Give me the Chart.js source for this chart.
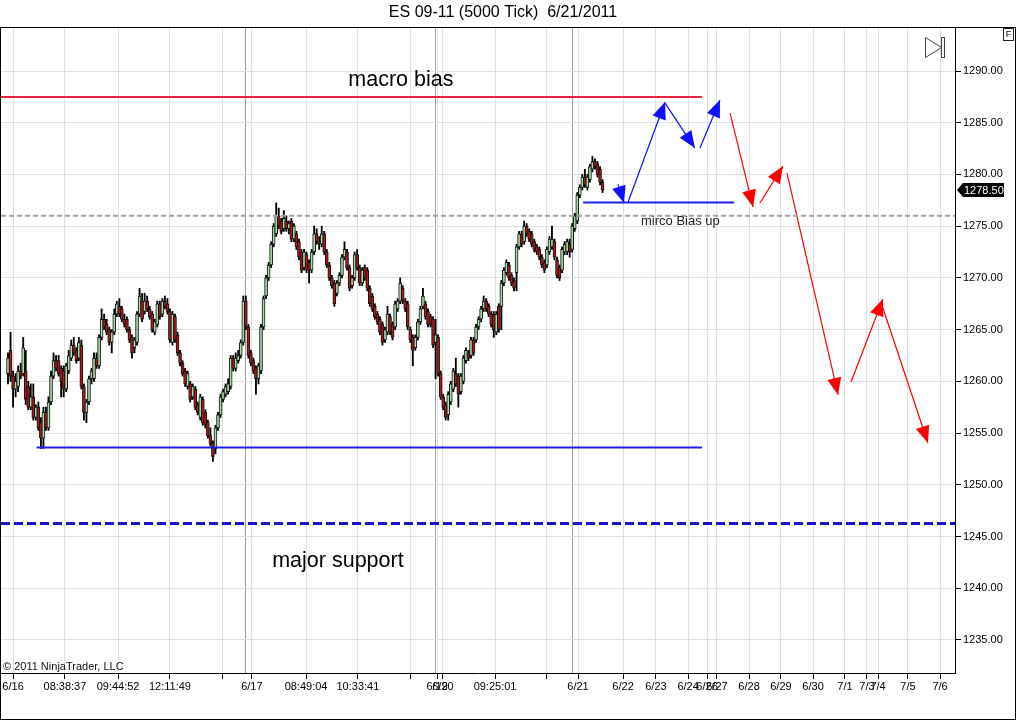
<!DOCTYPE html>
<html>
<head>
<meta charset="utf-8">
<title>ES 09-11 (5000 Tick) 6/21/2011</title>
<script src="https://cdn.jsdelivr.net/npm/chart.js@4.4.1/dist/chart.umd.min.js"></script>
<style>
  html, body { margin: 0; padding: 0; background: #fff; }
  #wrap { width: 1016px; height: 720px; }
</style>
</head>
<body>
<div id="wrap"><canvas id="chart" width="1016" height="720"></canvas></div>
<script>
// candles, one per 5000 ticks (index on x)
const opens = [
  1260.75,1263.0,1260.5,1259.25,1259.5,1261.0,1260.75,1261.0,1259.5,1257.5,
  1258.5,1256.5,1257.5,1256.0,1254.5,1257.0,1255.5,1258.0,1260.5,1262.0,
  1262.0,1261.25,1261.0,1259.25,1261.0,1262.25,1263.5,1263.0,1262.25,1263.5,
  1259.5,1257.0,1258.0,1260.25,1260.25,1262.25,1261.5,1264.25,1266.0,1265.5,
  1265.0,1263.75,1264.75,1266.5,1267.25,1267.0,1266.0,1266.0,1265.0,1264.25,
  1263.25,1263.75,1266.5,1267.75,1266.75,1267.75,1267.0,1266.5,1264.75,1265.5,
  1267.5,1266.5,1267.75,1267.5,1266.75,1263.75,1266.25,1264.5,1262.75,1261.75,
  1261.0,1259.5,1259.75,1258.5,1259.25,1257.75,1256.5,1258.25,1257.0,1256.0,
  1254.75,1254.0,1253.5,1255.5,1256.75,1258.25,1258.75,1259.0,1259.5,1262.25,
  1261.25,1262.0,1262.5,1263.75,1267.75,1265.25,1262.75,1262.0,1261.25,1260.25,
  1261.0,1265.25,1268.25,1270.0,1271.25,1273.25,1274.25,1276.0,1275.5,1274.75,
  1275.5,1274.75,1275.5,1273.75,1274.25,1273.5,1272.5,1271.0,1272.25,1271.5,
  1270.75,1272.5,1274.25,1273.5,1273.25,1274.25,1272.5,1271.25,1270.0,1269.5,
  1268.5,1269.5,1270.25,1272.0,1272.5,1271.0,1269.25,1270.0,1272.25,1271.0,
  1269.5,1271.0,1270.75,1269.0,1268.25,1267.25,1266.5,1266.0,1265.5,1264.0,
  1264.75,1266.25,1265.5,1265.25,1267.0,1267.75,1269.0,1267.75,1267.5,1265.0,
  1264.25,1263.25,1264.25,1265.75,1267.25,1267.5,1266.75,1266.25,1266.0,1263.75,
  1264.25,1260.75,1258.5,1257.75,1256.75,1258.0,1259.25,1260.75,1260.5,1259.0,
  1260.0,1262.0,1262.75,1262.5,1264.0,1264.0,1265.25,1266.0,1267.0,1267.75,
  1267.25,1266.5,1266.5,1264.75,1267.25,1267.25,1269.5,1270.5,1271.25,1270.25,
  1269.75,1270.5,1273.0,1274.25,1273.5,1275.0,1274.5,1274.25,1273.5,1273.0,
  1272.75,1272.0,1271.5,1271.25,1272.5,1273.0,1273.5,1271.75,1271.0,1270.75,
  1272.5,1272.5,1273.25,1272.75,1274.75,1275.5,1278.0,1278.75,1279.75,1278.75,
  1279.5,1280.5,1281.25,1281.0,1280.5,1279.25
];
const highs = [
  1262.75,1264.75,1261.0,1260.75,1261.5,1261.75,1264.25,1263.0,1260.0,1259.75,
  1259.75,1257.75,1258.0,1256.5,1257.5,1257.5,1258.5,1261.0,1262.75,1262.5,
  1262.5,1261.5,1261.5,1261.75,1263.0,1264.0,1264.25,1263.25,1264.25,1264.0,
  1259.75,1258.25,1260.5,1261.25,1262.75,1262.75,1264.5,1267.0,1266.5,1266.0,
  1265.25,1265.0,1267.0,1267.75,1268.0,1267.25,1266.5,1266.25,1265.25,1264.5,
  1264.25,1266.75,1269.0,1268.5,1268.5,1268.25,1267.25,1266.75,1266.0,1267.75,
  1267.75,1268.0,1268.25,1268.0,1267.0,1266.75,1266.5,1264.75,1263.0,1262.0,
  1261.25,1261.0,1260.0,1259.75,1259.5,1258.0,1258.75,1258.5,1257.25,1256.25,
  1255.5,1254.25,1255.75,1257.0,1258.75,1259.25,1259.75,1260.25,1262.5,1262.5,
  1262.75,1263.0,1264.0,1268.25,1268.25,1265.5,1263.0,1262.25,1261.5,1261.75,
  1265.5,1268.25,1270.25,1271.5,1273.5,1275.25,1277.25,1276.75,1275.75,1276.5,
  1276.0,1275.5,1275.75,1275.25,1274.5,1273.75,1272.75,1272.75,1272.5,1271.75,
  1272.75,1275.0,1274.75,1274.0,1275.0,1274.5,1272.75,1271.5,1270.25,1269.75,
  1269.75,1270.5,1272.25,1273.5,1272.75,1271.25,1270.25,1272.5,1272.75,1271.25,
  1271.0,1271.25,1271.0,1269.25,1268.5,1267.5,1266.75,1266.25,1265.75,1265.25,
  1267.25,1266.5,1265.75,1267.75,1268.0,1270.0,1269.25,1268.0,1267.75,1265.25,
  1264.5,1264.5,1266.0,1267.25,1269.0,1267.75,1267.0,1266.5,1266.25,1266.0,
  1264.5,1261.0,1258.75,1258.0,1259.0,1260.0,1261.25,1262.25,1260.75,1260.75,
  1262.5,1263.25,1263.0,1264.25,1264.25,1265.5,1266.25,1267.25,1268.25,1268.0,
  1267.5,1266.75,1266.75,1266.75,1267.5,1269.75,1271.0,1271.75,1271.5,1270.5,
  1270.0,1273.25,1274.5,1274.5,1275.5,1275.25,1274.75,1274.5,1273.75,1273.25,
  1273.0,1272.25,1271.75,1273.0,1274.0,1275.0,1273.75,1272.0,1271.25,1273.0,
  1273.5,1273.75,1273.75,1275.25,1276.25,1278.25,1279.0,1280.0,1280.5,1280.0,
  1281.0,1281.75,1281.5,1281.25,1280.75,1279.5
];
const lows = [
  1259.75,1260.0,1257.5,1258.5,1259.0,1260.25,1260.5,1257.75,1257.25,1257.25,
  1256.25,1256.25,1255.25,1253.5,1253.5,1255.25,1255.25,1257.75,1260.25,1261.0,
  1260.5,1258.5,1258.5,1259.0,1260.75,1262.0,1262.5,1261.75,1262.0,1259.25,
  1256.25,1256.0,1257.75,1259.75,1260.0,1261.25,1261.25,1264.0,1265.0,1264.5,
  1263.5,1262.75,1264.5,1266.25,1266.25,1265.75,1265.25,1264.75,1263.75,1262.25,
  1262.75,1263.5,1266.25,1265.75,1266.5,1266.75,1266.0,1264.75,1264.5,1265.25,
  1266.0,1266.25,1267.0,1266.5,1263.75,1263.5,1263.75,1262.5,1261.5,1260.5,
  1259.5,1259.25,1258.0,1258.25,1257.25,1256.75,1256.25,1255.75,1255.5,1254.5,
  1253.75,1252.25,1253.0,1255.25,1256.5,1258.0,1258.5,1258.75,1259.25,1261.0,
  1261.0,1261.75,1262.25,1263.5,1265.0,1262.25,1261.5,1260.75,1258.75,1259.75,
  1260.75,1265.0,1268.0,1269.75,1271.0,1273.0,1274.0,1274.75,1274.25,1274.5,
  1274.5,1274.25,1273.5,1273.5,1272.75,1271.75,1270.5,1270.75,1270.5,1269.5,
  1270.5,1272.25,1273.25,1272.75,1273.0,1272.25,1271.0,1269.75,1269.0,1267.25,
  1268.25,1269.25,1270.0,1271.75,1270.75,1268.75,1269.0,1269.75,1270.75,1269.25,
  1269.25,1269.75,1268.75,1267.25,1266.75,1266.0,1265.5,1264.5,1263.5,1263.75,
  1264.5,1264.5,1264.0,1265.0,1266.75,1267.5,1267.5,1266.75,1265.0,1263.75,
  1261.5,1263.0,1264.0,1265.5,1267.0,1266.0,1265.25,1265.25,1263.25,1260.25,
  1260.5,1258.25,1257.25,1256.25,1256.25,1257.75,1259.0,1259.5,1257.5,1258.75,
  1259.75,1261.75,1262.0,1262.25,1262.5,1263.75,1265.0,1265.75,1266.75,1266.75,
  1266.25,1265.25,1264.25,1264.5,1264.75,1265.0,1269.25,1270.25,1269.75,1269.25,
  1268.75,1268.75,1272.75,1273.0,1273.25,1274.0,1273.5,1273.0,1272.5,1272.25,
  1271.75,1271.0,1270.5,1271.0,1272.25,1272.75,1271.75,1270.0,1269.75,1270.5,
  1272.25,1272.25,1272.0,1272.5,1274.5,1275.25,1277.75,1278.5,1278.75,1278.5,
  1279.25,1280.25,1280.5,1279.75,1279.0,1278.25
];
const closes = [
  1262.25,1260.5,1259.25,1260.0,1261.0,1260.5,1263.25,1258.25,1257.5,1258.5,
  1256.5,1257.5,1255.5,1254.5,1257.0,1255.5,1258.0,1260.5,1262.0,1261.25,
  1260.75,1260.0,1259.25,1261.5,1262.5,1263.5,1262.75,1262.0,1263.75,1259.5,
  1257.0,1258.0,1260.25,1261.0,1262.25,1261.5,1264.25,1266.0,1265.25,1264.75,
  1263.75,1264.75,1266.5,1267.5,1266.5,1266.0,1265.5,1265.0,1264.0,1262.75,
  1264.0,1266.5,1268.25,1266.0,1267.75,1267.0,1266.25,1265.0,1265.75,1267.5,
  1266.25,1267.75,1267.25,1266.75,1264.0,1266.5,1264.0,1262.75,1261.75,1260.75,
  1259.75,1260.75,1258.25,1259.5,1257.5,1257.0,1258.5,1256.0,1255.75,1254.75,
  1254.0,1252.75,1255.5,1256.75,1258.5,1259.0,1259.5,1259.75,1262.25,1261.25,
  1262.25,1262.5,1263.75,1267.75,1265.25,1262.5,1261.75,1261.0,1260.25,1261.5,
  1265.25,1268.0,1270.0,1271.25,1273.25,1275.0,1276.0,1275.0,1274.5,1275.75,
  1274.75,1275.25,1273.75,1275.0,1273.0,1272.0,1270.75,1272.5,1270.75,1270.75,
  1272.5,1274.25,1273.5,1273.25,1274.25,1272.5,1271.25,1270.0,1269.25,1267.5,
  1269.5,1270.25,1272.0,1272.75,1271.0,1269.0,1270.0,1272.25,1271.0,1269.5,
  1270.75,1270.0,1269.0,1267.5,1267.0,1266.25,1265.75,1264.75,1263.75,1265.0,
  1266.5,1264.75,1264.25,1267.5,1267.75,1269.5,1267.75,1267.0,1265.25,1264.0,
  1263.0,1264.25,1265.75,1267.0,1268.25,1266.25,1265.5,1265.5,1263.5,1264.5,
  1260.75,1258.5,1257.5,1256.5,1258.75,1259.75,1261.0,1259.75,1258.75,1260.5,
  1262.25,1263.0,1262.25,1264.0,1262.75,1265.25,1266.0,1267.0,1267.75,1267.0,
  1266.5,1265.5,1265.0,1266.5,1265.0,1269.5,1270.75,1271.5,1270.0,1269.5,
  1269.0,1273.0,1274.25,1273.25,1275.0,1274.25,1273.75,1273.25,1272.75,1272.5,
  1272.0,1271.25,1270.75,1272.75,1273.75,1273.75,1272.0,1270.25,1270.0,1272.75,
  1273.25,1273.5,1272.5,1275.0,1276.0,1278.0,1278.75,1279.75,1279.0,1279.75,
  1280.75,1281.25,1280.75,1280.0,1279.25,1278.5
];

// x axis: bar-index positions of the time labels
const xTickPos = [2.0, 22.5, 43.5, 64.0, 84.6, 96.4, 117.8, 138.3, 158.9, 169.6, 171.9, 192.5, 213.0, 225.3,
                  243.1, 256.1, 268.8, 276.3, 280.2, 292.9, 305.5, 318.2, 330.8, 339.5, 343.9, 355.7, 368.4];
const xTickLabels = ['6/16', '08:38:37', '09:44:52', '12:11:49', '', '6/17', '08:49:04', '10:33:41', '', '6/19', '6/20', '09:25:01', '', '6/21',
                     '6/22', '6/23', '6/24', '6/26', '6/27', '6/28', '6/29', '6/30', '7/1', '7/3', '7/4', '7/5', '7/6'];
const sessionBreaks = [93.7, 168.8, 223.3];
const yTicks = [1235, 1240, 1245, 1250, 1255, 1260, 1265, 1270, 1275, 1280, 1285, 1290];
const xMin = -2.77, xMax = 374.3, yMin = 1231.8, yMax = 1294.16;

// drawn levels
const macroBias = 1287.5;
const microBias = 1277.3;
const supportLevel = 1253.6;
const majorSupport = 1246.25;
const prevHigh = 1276.0;

// arrows: [fromBar, fromPrice, toBar, toPrice]
const blueArrows = [
  [241.1, 1279.07, 243.5, 1277.24],
  [245.1, 1277.33, 259.7, 1287.0],
  [259.7, 1286.9, 271.5, 1282.55],
  [273.5, 1282.55, 281.4, 1287.19]
];
const redArrows = [
  [285.4, 1285.94, 294.5, 1276.85],
  [297.2, 1277.24, 306.3, 1280.81],
  [307.9, 1280.14, 328.1, 1258.68],
  [333.2, 1259.93, 345.8, 1267.96],
  [345.8, 1267.09, 363.6, 1254.04]
];

const noteTexts = ['macro bias', 'major support', 'mirco Bias up'];
const noteBars = [155.3, 130.4, 250.2];
const notePrices = [1289.1, 1242.6, 1275.5];

const FONT = '"Liberation Sans", Arial, sans-serif';
const UP = '#a8dcaa', DOWN = '#ad1919';

function hline(y, x0, x1, color, width, dash) {
  return {
    type: 'line',
    data: [{x: x0, y: y}, {x: x1, y: y}],
    borderColor: color, borderWidth: width, borderDash: dash || [],
    pointRadius: 0, tension: 0, order: 0
  };
}
function arrow(a, color) {
  return {
    type: 'line',
    data: [{x: a[0], y: a[1]}, {x: a[2], y: a[3]}],
    borderColor: color, borderWidth: 1.2,
    pointRadius: 0, tension: 0, order: 0, arrowHead: true
  };
}

const datasets = [
  {
    type: 'bar', label: 'bodies', order: 1, grouped: false,
    data: opens.map((o, i) => ({x: i, y: [o, closes[i]]})),
    backgroundColor: opens.map((o, i) => closes[i] >= o ? UP : DOWN),
    borderColor: '#111', borderWidth: 1, borderSkipped: false, barThickness: 3
  },
  {
    type: 'bar', label: 'wicks', order: 2, grouped: false,
    data: lows.map((l, i) => ({x: i, y: [l, highs[i]]})),
    backgroundColor: '#000', borderWidth: 0, barThickness: 1.2
  },
  hline(prevHigh, xMin, xMax, '#a3a3a3', 2, [5, 3]),
  hline(majorSupport, xMin, xMax, '#1414c8', 3, [9, 4]),
  hline(macroBias, xMin, 274.3, '#e6243c', 2),
  hline(supportLevel, 11.3, 274.3, '#1e1ef0', 2),
  hline(microBias, 227.3, 287.0, '#1e1ef0', 2),
  ...blueArrows.map(a => arrow(a, '#1010ff')),
  ...redArrows.map(a => arrow(a, '#ff0000'))
];

const decor = {
  id: 'decor',
  afterDatasetsDraw(chart) {
    const {ctx, scales: {x, y}} = chart;
    chart.data.datasets.forEach((ds, i) => {
      if (!ds.arrowHead) return;
      const pts = chart.getDatasetMeta(i).data;
      const a = pts[0], b = pts[1];
      const ang = Math.atan2(b.y - a.y, b.x - a.x);
      ctx.save();
      ctx.translate(b.x, b.y);
      ctx.rotate(ang);
      ctx.beginPath();
      ctx.moveTo(0, 0);
      ctx.lineTo(-17, -7);
      ctx.lineTo(-17, 7);
      ctx.closePath();
      ctx.fillStyle = ds.borderColor;
      ctx.fill();
      ctx.restore();
    });

    ctx.save();
    ctx.textBaseline = 'middle';
    noteTexts.forEach((t, i) => {
      const big = i < 2;
      ctx.font = (big ? '21.5px ' : '13px ') + FONT;
      ctx.textAlign = big ? 'center' : 'left';
      ctx.fillStyle = big ? '#000' : '#222';
      ctx.fillText(t, x.getPixelForValue(noteBars[i]), y.getPixelForValue(notePrices[i]));
    });
    ctx.restore();
  },
  afterDraw(chart) {
    const {ctx, chartArea: ca, scales: {y}} = chart;
    ctx.save();
    // title
    ctx.fillStyle = '#000';
    ctx.font = '16px ' + FONT;
    ctx.textAlign = 'center';
    ctx.textBaseline = 'middle';
    ctx.fillText('ES 09-11 (5000 Tick)  6/21/2011', 503, 13);

    // copyright
    ctx.font = '11px ' + FONT;
    ctx.textAlign = 'left';
    ctx.fillStyle = '#111';
    ctx.fillText('\u00a9 2011 NinjaTrader, LLC', 3, 667);

    // panel frame
    ctx.strokeStyle = '#000';
    ctx.lineWidth = 1;
    ctx.strokeRect(0.5, 27.5, 1015, 692);

    // last price marker
    const py = Math.round(y.getPixelForValue(closes[closes.length - 1]));
    ctx.fillStyle = '#000';
    ctx.beginPath();
    ctx.moveTo(ca.right + 2, py);
    ctx.lineTo(ca.right + 8, py - 7);
    ctx.lineTo(1004, py - 7);
    ctx.lineTo(1004, py + 7);
    ctx.lineTo(ca.right + 8, py + 7);
    ctx.closePath();
    ctx.fill();
    ctx.fillStyle = '#fff';
    ctx.font = '11px ' + FONT;
    ctx.fillText(closes[closes.length - 1].toFixed(2), 964, py + 0.5);

    // "F" box
    ctx.strokeStyle = '#222';
    ctx.fillStyle = '#fff';
    ctx.fillRect(1003.5, 28.5, 10, 12);
    ctx.strokeRect(1003.5, 28.5, 10, 12);
    ctx.fillStyle = '#000';
    ctx.font = '9px ' + FONT;
    ctx.textAlign = 'center';
    ctx.fillText('F', 1008.5, 35);

    // scroll-to-end icon
    ctx.strokeStyle = '#444';
    ctx.beginPath();
    ctx.moveTo(925.5, 37.5);
    ctx.lineTo(941.5, 47.5);
    ctx.lineTo(925.5, 57.5);
    ctx.closePath();
    ctx.stroke();
    ctx.strokeRect(941.5, 37.5, 3, 20);
    ctx.restore();
  }
};

new Chart(document.getElementById('chart'), {
  type: 'bar',
  data: {datasets},
  plugins: [decor],
  options: {
    responsive: false,
    animation: false,
    events: [],
    layout: {padding: {left: 1, top: 28, right: 0, bottom: 0}},
    plugins: {legend: {display: false}, tooltip: {enabled: false}, title: {display: false}},
    scales: {
      x: {
        type: 'linear', position: 'bottom', min: xMin, max: xMax, offset: false,
        afterFit: s => { s.height = 47; },
        afterBuildTicks: s => {
          s.ticks = xTickPos.map(v => ({value: v})).concat(sessionBreaks.map(v => ({value: v})));
        },
        grid: {
          offset: false, tickLength: 6,
          color: c => sessionBreaks.includes(c.tick && c.tick.value) ? '#a0a0a0' : '#e0e0e0',
          tickColor: c => sessionBreaks.includes(c.tick && c.tick.value) ? 'rgba(0,0,0,0)' : '#000'
        },
        border: {color: '#000', width: 1},
        ticks: {
          autoSkip: false, maxRotation: 0, minRotation: 0, padding: 1,
          color: '#000', font: {family: FONT, size: 11},
          callback: v => {
            const k = xTickPos.indexOf(v);
            return k >= 0 ? xTickLabels[k] : '';
          }
        }
      },
      y: {
        type: 'linear', position: 'right', min: yMin, max: yMax,
        afterFit: s => { s.width = 61; },
        afterBuildTicks: s => { s.ticks = yTicks.map(v => ({value: v})); },
        grid: {color: '#e0e0e0', tickLength: 6, tickColor: '#000'},
        border: {color: '#000', width: 1},
        ticks: {
          padding: 2, color: '#000', font: {family: FONT, size: 11},
          callback: v => v.toFixed(2)
        }
      }
    }
  }
});
</script>
</body>
</html>
